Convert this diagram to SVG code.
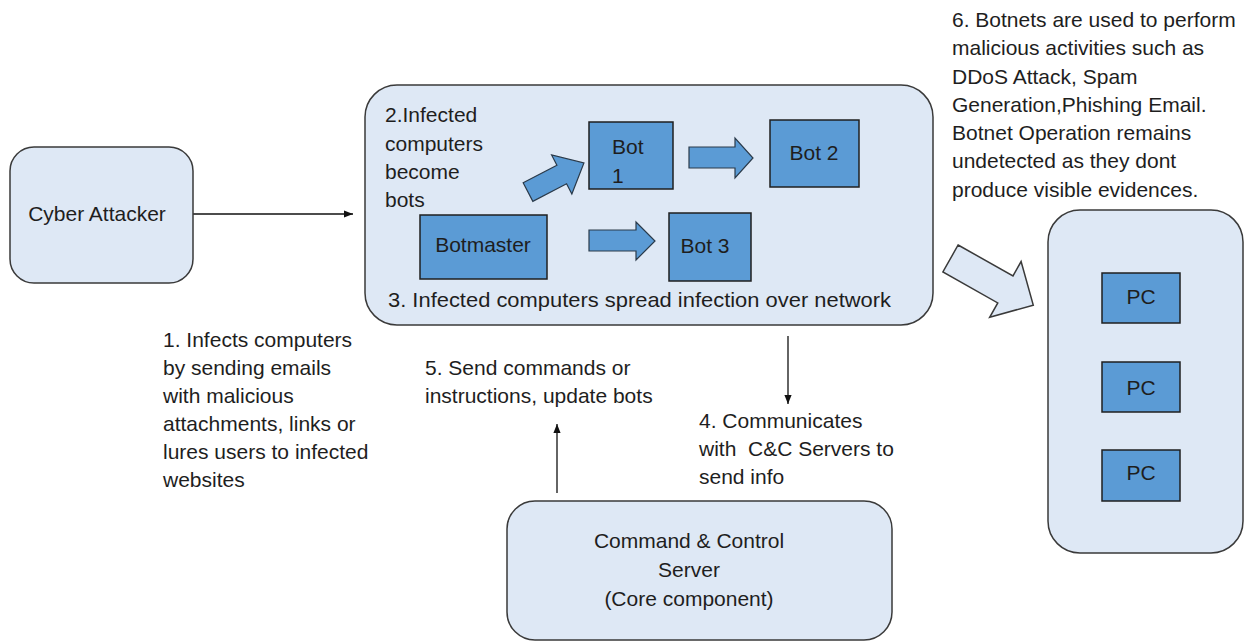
<svg xmlns="http://www.w3.org/2000/svg" width="1256" height="642" viewBox="0 0 1256 642">
<defs>
<style>
.t{font-family:"Liberation Sans",Arial,sans-serif;font-size:21px;fill:#1e1e1e}
.c{text-anchor:middle}
.box{fill:#dee8f5;stroke:#3a3a3a;stroke-width:1.5}
.bot{fill:#5b9bd5;stroke:#1f1f1f;stroke-width:1.5}
.blk{fill:#5b9bd5;stroke:#2a3a4a;stroke-width:1.2}
.ln{stroke:#111;stroke-width:1.3;fill:none}
</style>
<marker id="ah" viewBox="0 0 10 10" refX="10" refY="5" markerWidth="9" markerHeight="9" markerUnits="userSpaceOnUse" orient="auto">
<path d="M0,1 L10,5 L0,9 Z" fill="#111"/>
</marker>
</defs>
<rect width="1256" height="642" fill="#ffffff"/>

<g id="connectors">
<line class="ln" x1="193" y1="214" x2="353" y2="214" marker-end="url(#ah)"/>
<line class="ln" x1="788" y1="336" x2="788" y2="404" marker-end="url(#ah)"/>
<line class="ln" x1="557" y1="493" x2="557" y2="424" marker-end="url(#ah)"/>
<polygon points="0,-15.5 63,-15.5 63,-32 95,0 63,32 63,15.5 0,15.5" transform="translate(950.5,258.5) rotate(29.4)" fill="#dee8f5" stroke="#3a3a3a" stroke-width="1.5"/>
</g>

<g id="cyber-attacker">
<rect class="box" x="10" y="147" width="183" height="136" rx="24"/>
<text class="t c" x="97" y="221">Cyber Attacker</text>
</g>

<g id="botnet">
<rect class="box" x="365" y="85" width="568" height="240" rx="32"/>
<text class="t" x="385" y="122">2.Infected</text>
<text class="t" x="385" y="151">computers</text>
<text class="t" x="385" y="179">become</text>
<text class="t" x="385" y="207">bots</text>
<text class="t" x="388" y="307" textLength="503" lengthAdjust="spacingAndGlyphs">3. Infected computers spread infection over network</text>
</g>

<g id="bot1">
<rect class="bot" x="589" y="122" width="84" height="67"/>
<text class="t" x="612" y="154">Bot</text>
<text class="t" x="612" y="183">1</text>
</g>
<g id="bot2">
<rect class="bot" x="770" y="120" width="89" height="67"/>
<text class="t c" x="814" y="160">Bot 2</text>
</g>
<g id="botmaster">
<rect class="bot" x="420" y="215" width="127" height="64"/>
<text class="t c" x="483" y="252">Botmaster</text>
</g>
<g id="bot3">
<rect class="bot" x="669" y="213" width="82" height="68"/>
<text class="t c" x="705" y="253">Bot 3</text>
</g>

<g id="block-arrows">
<polygon class="blk" points="0,-10.5 38,-10.5 38,-22 63,0 38,22 38,10.5 0,10.5" transform="translate(528,192) rotate(-27.4)"/>
<polygon class="blk" points="689,147 735,147 735,138 753,158 735,178 735,168 689,168"/>
<polygon class="blk" points="589,230 636,230 636,222 655,241 636,260 636,251 589,251"/>
</g>

<g id="pc-group">
<rect class="box" x="1048" y="210" width="195" height="343" rx="32"/>
</g>
<g id="pc1">
<rect class="bot" x="1102" y="273" width="78" height="50"/>
<text class="t c" x="1141" y="304">PC</text>
</g>
<g id="pc2">
<rect class="bot" x="1102" y="362" width="78" height="50"/>
<text class="t c" x="1141" y="395">PC</text>
</g>
<g id="pc3">
<rect class="bot" x="1102" y="450" width="78" height="51"/>
<text class="t c" x="1141" y="480">PC</text>
</g>

<g id="cnc-server">
<rect class="box" x="507" y="501" width="385" height="139" rx="28"/>
<text class="t c" x="689" y="548">Command &amp; Control</text>
<text class="t c" x="689" y="577">Server</text>
<text class="t c" x="689" y="606">(Core component)</text>
</g>

<g id="labels">
<text class="t" x="163" y="347">1. Infects computers</text>
<text class="t" x="163" y="375">by sending emails</text>
<text class="t" x="163" y="403">with malicious</text>
<text class="t" x="163" y="431">attachments, links or</text>
<text class="t" x="163" y="459">lures users to infected</text>
<text class="t" x="163" y="487">websites</text>

<text class="t" x="425" y="375">5. Send commands or</text>
<text class="t" x="425" y="403">instructions, update bots</text>

<text class="t" x="699" y="428">4. Communicates</text>
<text class="t" x="699" y="456" xml:space="preserve">with  C&amp;C Servers to</text>
<text class="t" x="699" y="484">send info</text>

<text class="t" x="952" y="27">6. Botnets are used to perform</text>
<text class="t" x="952" y="55">malicious activities such as</text>
<text class="t" x="952" y="84">DDoS Attack, Spam</text>
<text class="t" x="952" y="112">Generation,Phishing Email.</text>
<text class="t" x="952" y="140">Botnet Operation remains</text>
<text class="t" x="952" y="168">undetected as they dont</text>
<text class="t" x="952" y="197">produce visible evidences.</text>
</g>
</svg>
